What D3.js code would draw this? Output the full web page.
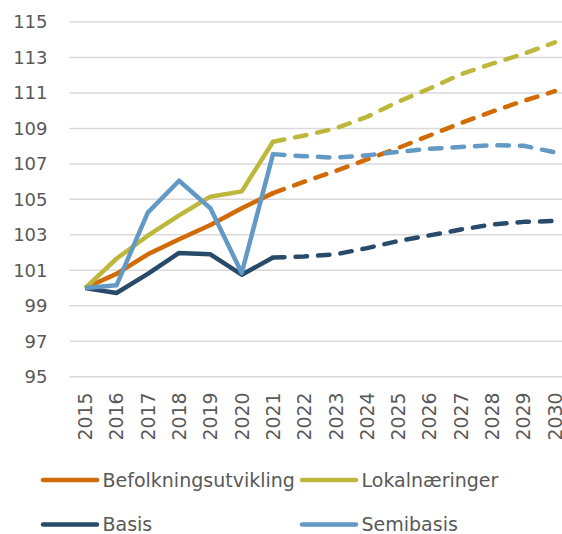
<!DOCTYPE html>
<html>
<head>
<meta charset="utf-8">
<script src="https://cdn.jsdelivr.net/npm/d3@7"></script>
<style>
  body { margin: 0; background: #fff; }
  svg { display: block; font-family: "DejaVu Sans", sans-serif; }
</style>
</head>
<body>
<div id="chart"></div>
<script>
// data
var years = [2015, 2016, 2017, 2018, 2019, 2020, 2021, 2022, 2023, 2024, 2025, 2026, 2027, 2028, 2029, 2030];
var befolkning = [100, 100.8, 101.9, 102.75, 103.55, 104.5, 105.35, 106.0, 106.6, 107.25, 107.9, 108.6, 109.3, 109.95, 110.55, 111.1];
var lokal = [100, 101.65, 102.95, 104.1, 105.15, 105.45, 108.25, 108.6, 109.0, 109.65, 110.5, 111.25, 112.05, 112.65, 113.2, 113.85];
var basis = [100, 99.72, 100.8, 101.98, 101.9, 100.75, 101.72, 101.78, 101.9, 102.25, 102.65, 102.97, 103.3, 103.58, 103.73, 103.78];
var semibasis = [100, 100.15, 104.25, 106.05, 104.5, 100.85, 107.55, 107.43, 107.35, 107.48, 107.68, 107.85, 107.95, 108.05, 108.02, 107.65];
var yTicks = [95, 97, 99, 101, 103, 105, 107, 109, 111, 113, 115];
var splitYear = 2021;

var seriesNames = ["Befolkningsutvikling", "Lokalnæringer", "Basis", "Semibasis"];
var seriesColors = ["#d26b05", "#bdb83c", "#284b6b", "#6399c5"];
var seriesValues = [befolkning, lokal, basis, semibasis];

var W = 562, H = 534;

var svg = d3.select("#chart")
    .append("svg")
    .attr("width", W)
    .attr("height", H);

var x = d3.scalePoint()
    .domain(years)
    .range([69.5, 570.5])
    .padding(0.5);

var y = d3.scaleLinear()
    .domain([95, 115])
    .range([376.7, 22]);

// gridlines
svg.append("g").selectAll("line")
    .data(yTicks)
    .enter()
    .append("line")
    .attr("x1", 69.5)
    .attr("x2", 570)
    .attr("y1", function (d) { return y(d); })
    .attr("y2", function (d) { return y(d); })
    .attr("stroke", "#d9d9d9")
    .attr("stroke-width", 1.5);

// y labels
svg.append("g").selectAll("text")
    .data(yTicks)
    .enter()
    .append("text")
    .attr("x", 47.5)
    .attr("y", function (d) { return y(d); })
    .attr("dy", "0.36em")
    .attr("text-anchor", "end")
    .attr("font-size", 18)
    .attr("fill", "#595959")
    .text(function (d) { return d; });

// x labels, rotated
svg.append("g").selectAll("text")
    .data(years)
    .enter()
    .append("text")
    .attr("transform", function (d) { return "translate(" + x(d) + ",392.5) rotate(-90)"; })
    .attr("dy", "0.36em")
    .attr("text-anchor", "end")
    .attr("font-size", 19)
    .attr("textLength", 48)
    .attr("lengthAdjust", "spacingAndGlyphs")
    .attr("fill", "#595959")
    .text(function (d) { return d; });

var line = d3.line()
    .x(function (d) { return x(d.year); })
    .y(function (d) { return y(d.value); });

var lines = svg.append("g")
    .attr("fill", "none")
    .attr("stroke-width", 4.5)
    .attr("stroke-linecap", "round")
    .attr("stroke-linejoin", "round");

seriesValues.forEach(function (vals, i) {
    var pts = years.map(function (yr, j) { return { year: yr, value: vals[j] }; });
    lines.append("path")
        .datum(pts.filter(function (d) { return d.year <= splitYear; }))
        .attr("stroke", seriesColors[i])
        .attr("stroke-linecap", "butt")
        .attr("d", line);
    lines.append("path")
        .datum(pts.filter(function (d) { return d.year >= splitYear; }))
        .attr("stroke", seriesColors[i])
        .attr("stroke-dasharray", "11.5,11")
        .attr("d", line);
});

// legend
var legendPos = [
    { x: 43, y: 480 },
    { x: 302, y: 480 },
    { x: 43, y: 524.5 },
    { x: 302, y: 524.5 }
];

var legend = svg.append("g").selectAll("g")
    .data(seriesNames)
    .enter()
    .append("g")
    .attr("transform", function (d, i) { return "translate(" + legendPos[i].x + "," + legendPos[i].y + ")"; });

legend.append("line")
    .attr("x1", 0)
    .attr("x2", 54)
    .attr("stroke", function (d, i) { return seriesColors[i]; })
    .attr("stroke-width", 4.5)
    .attr("stroke-linecap", "round");

legend.append("text")
    .attr("x", 59.5)
    .attr("dy", "0.36em")
    .attr("font-size", 19)
    .attr("fill", "#595959")
    .text(function (d) { return d; });
</script>
</body>
</html>
